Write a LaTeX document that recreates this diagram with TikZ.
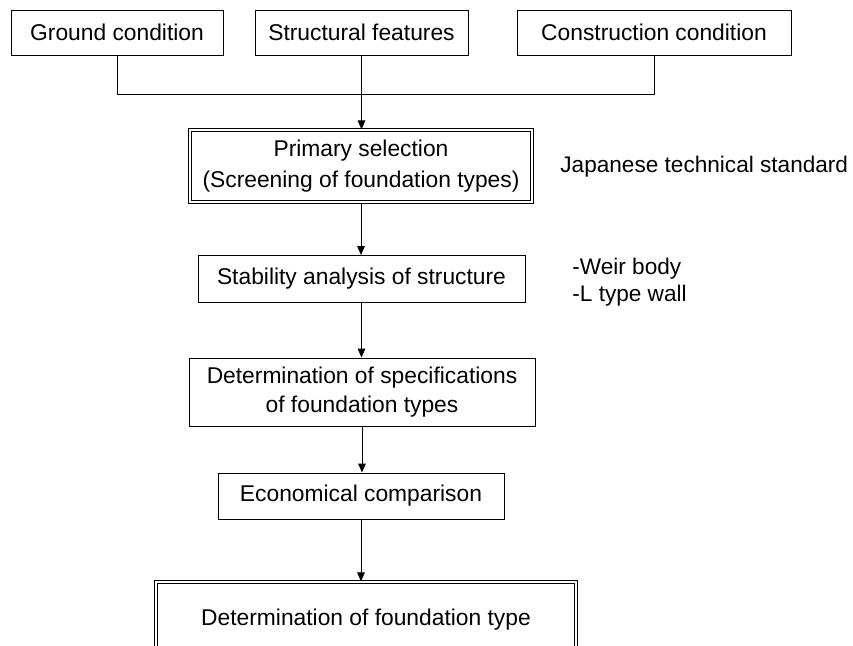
\documentclass[tikz,border=0pt]{standalone}
\usepackage{fontspec}
\setmainfont{Liberation Sans}
\usetikzlibrary{positioning,arrows.meta}

\tikzset{
	box/.style={draw, line width=0.5pt, align=center, inner sep=0pt, font=\fontsize{11.4}{14.5}\selectfont},
	dbox/.style={box, double, double distance=1.1pt, line width=0.6pt},
	note/.style={align=left, inner sep=0pt, font=\fontsize{11.3}{13.8}\selectfont},
	arr/.style={-{Triangle[length=4.5pt,width=3.8pt]}, line width=0.5pt},
}

\begin{document}
\begin{tikzpicture}[x=0.5pt,y=-0.5pt]
	\clip (0,0) rectangle (853,645);
	\node[box,minimum width=106pt,minimum height=22.5pt] (ground) at (117,32.5) {Ground condition};
	\node[box,minimum width=106.5pt,minimum height=22.5pt] (struct) at (361.5,32.5) {Structural features};
	\node[box,minimum width=137pt,minimum height=22.5pt] (constr) at (654,32.5) {Construction condition};
	\coordinate (bus) at (361.5,94);
	\node[dbox,minimum width=171pt,minimum height=36pt] (primary) at (361,166) {Primary selection\\[1pt](Screening of foundation types)};
	\node[note,anchor=west] (standard) at (560,167) {Japanese technical standard};
	\node[box,minimum width=163.5pt,minimum height=23.5pt] (stab) at (361.5,279) {Stability analysis of structure};
	\node[note,anchor=west] (parts) at (572,282) {-Weir body\\-L type wall};
	\node[box,minimum width=173pt,minimum height=34pt] (spec) at (362,392) {Determination of specifications\\of foundation types};
	\node[box,minimum width=143pt,minimum height=23pt] (econ) at (361,496) {Economical comparison};
	\node[dbox,minimum width=210pt,minimum height=38pt] (final) at (366,620) {Determination of foundation type};
	% connectors
	\draw[line width=0.5pt] (ground.south) |- (bus) -| (constr.south);
	\draw[arr] (struct.south) -- (struct.south |- primary.north);
	\draw[arr] (primary.south) -- (primary.south |- stab.north);
	\draw[arr] (stab.south) -- (stab.south |- spec.north);
	\draw[arr] (spec.south) -- (spec.south |- econ.north);
	\draw[arr] (econ.south) -- (econ.south |- final.north);
\end{tikzpicture}
\end{document}
